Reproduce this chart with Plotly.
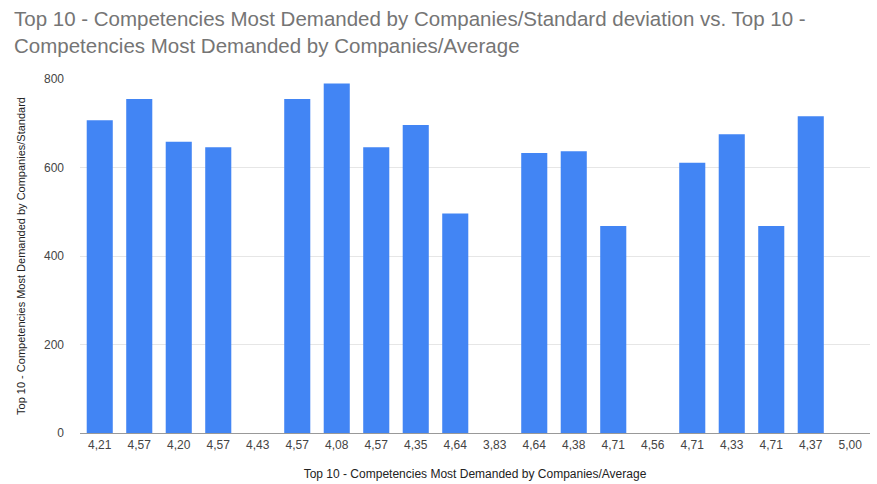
import plotly.graph_objects as go

averages = ["4,21", "4,57", "4,20", "4,57", "4,43", "4,57", "4,08", "4,57", "4,35", "4,64",
            "3,83", "4,64", "4,38", "4,71", "4,56", "4,71", "4,33", "4,71", "4,37", "5,00"]
std_dev = [707, 755, 658, 646, None, 755, 790, 646, 696, 496,
           None, 633, 637, 468, None, 611, 675, 468, 716, None]
y_ticks = [0, 200, 400, 600, 800]

positions = list(range(len(averages)))

fig = go.Figure(go.Bar(x=positions, y=std_dev, marker=dict(color="#4285f4", line=dict(width=0))))

fig.update_layout(
    width=877, height=484,
    margin=dict(l=80, r=7, t=79, b=51),
    paper_bgcolor="white", plot_bgcolor="white",
    bargap=0.34,
    showlegend=False,
    font=dict(family="Liberation Sans, Arial, sans-serif", color="#222"),
    annotations=[dict(
        text="Top 10 - Competencies Most Demanded by Companies/Standard deviation vs. Top 10 -<br>Competencies Most Demanded by Companies/Average",
        xref="paper", yref="paper", x=-0.086, y=1.21, xanchor="left", yanchor="top",
        align="left", showarrow=False,
        font=dict(size=20.5, color="#757575"),
    )],
    xaxis=dict(
        tickmode="array", tickvals=positions, ticktext=averages,
        range=[-0.5, len(averages) - 0.5],
        tickfont=dict(size=12, color="#444"),
        showgrid=False, showline=False, ticks="", ticklabelstandoff=3,
        automargin=False,
        title=dict(text="Top 10 - Competencies Most Demanded by Companies/Average",
                   font=dict(size=12, color="#222"), standoff=18),
    ),
    yaxis=dict(
        range=[0, 800], tickvals=y_ticks,
        tickfont=dict(size=12, color="#444"),
        gridcolor="#e6e6e6", gridwidth=1,
        zeroline=True, zerolinecolor="#999", zerolinewidth=1,
        automargin=False,
        title=dict(text="Top 10 - Competencies Most Demanded by Companies/Standard",
                   font=dict(size=11, color="#222"), standoff=16),
        ticks="", ticklabelstandoff=15,
    ),
)

fig.write_html("out.html")
